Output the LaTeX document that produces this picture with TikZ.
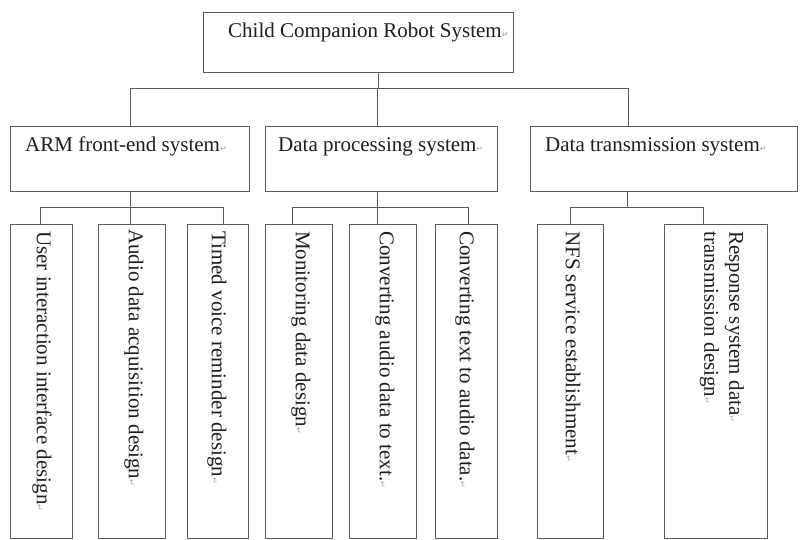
\documentclass[tikz,border=0pt]{standalone}
\usepackage{fontspec}
\setmainfont{Liberation Serif}
\newfontfamily\symfont{DejaVu Sans}
\definecolor{linecol}{HTML}{5A5A5A}
\definecolor{txtcol}{HTML}{1E1E1E}
\newcommand{\pmark}{{\symfont\fontsize{8}{8}\selectfont\color{gray!70}↵}}
\begin{document}
\begin{tikzpicture}[x=1pt,y=-1pt,
  box/.style={draw=linecol,line width=1pt,rectangle,inner sep=0pt,anchor=north west},
  lbl/.style={font=\fontsize{21}{25}\selectfont,text=txtcol,inner sep=0pt},
  vlbl/.style={lbl,rotate=-90,anchor=west,align=left},
  conn/.style={draw=linecol,line width=0.9pt}]
\useasboundingbox[fill=white] (0,0) rectangle (800,540);

% boxes
\node[box,minimum width=310pt,minimum height=60pt] (top) at (203,12) {};
\node[box,minimum width=239pt,minimum height=65pt] (arm) at (10,126) {};
\node[box,minimum width=232pt,minimum height=65pt] (dp) at (265,126) {};
\node[box,minimum width=267pt,minimum height=65pt] (tx) at (530,126) {};

\node[box,minimum width=62pt,minimum height=314pt] (b1) at (10,224) {};
\node[box,minimum width=67pt,minimum height=314pt] (b2) at (98,224) {};
\node[box,minimum width=61pt,minimum height=314pt] (b3) at (187,224) {};
\node[box,minimum width=67pt,minimum height=314pt] (b4) at (265,224) {};
\node[box,minimum width=67pt,minimum height=314pt] (b5) at (349,224) {};
\node[box,minimum width=62pt,minimum height=314pt] (b6) at (435,224) {};
\node[box,minimum width=66pt,minimum height=314pt] (b7) at (537,224) {};
\node[box,minimum width=103pt,minimum height=314pt] (b8) at (664,224) {};

% labels
\node[lbl,anchor=base west] (ttop) at (228,38) {Child Companion Robot System\pmark};
\node[lbl,anchor=base west] (tarm) at (25,152) {ARM front-end system\pmark};
\node[lbl,anchor=base west] (tdp) at (278,152) {Data processing system\pmark};
\node[lbl,anchor=base west] (ttx) at (545,152) {Data transmission system\pmark};

\node[vlbl] (t1) at (42,231) {User interaction interface design\pmark};
\node[vlbl] (t2) at (134,229) {Audio data acquisition design\pmark};
\node[vlbl] (t3) at (217,231) {Timed voice reminder design\pmark};
\node[vlbl] (t4) at (301,231) {Monitoring data design\pmark};
\node[vlbl] (t5) at (385,231) {Converting audio data to text.\pmark};
\node[vlbl] (t6) at (465,231) {Converting text to audio data.\pmark};
\node[vlbl] (t7) at (573,231) {NFS service establishment\pmark};
\node[vlbl] (t8) at (722,231) {Response system data\pmark\\transmission design\pmark};

% connectors level 1
\coordinate (busA) at (378,88);
\draw[conn] (378,0 |- top.south) -- (busA);
\draw[conn] (130,0 |- arm.north) -- (130,88) -- (628,88) -- (628,0 |- tx.north);
\draw[conn] (377,0 |- dp.north) -- (377,88);

% connectors level 2: ARM
\draw[conn] (130,0 |- arm.south) -- (130,0 |- b2.north);
\draw[conn] (40,0 |- b1.north) -- (40,207) -- (223,207) -- (223,0 |- b3.north);
% DP
\draw[conn] (377,0 |- dp.south) -- (377,0 |- b5.north);
\draw[conn] (292,0 |- b4.north) -- (292,207) -- (468,207) -- (468,0 |- b6.north);
% TX
\draw[conn] (627,0 |- tx.south) -- (627,207);
\draw[conn] (570,0 |- b7.north) -- (570,207) -- (703,207) -- (703,0 |- b8.north);
\end{tikzpicture}
\end{document}
